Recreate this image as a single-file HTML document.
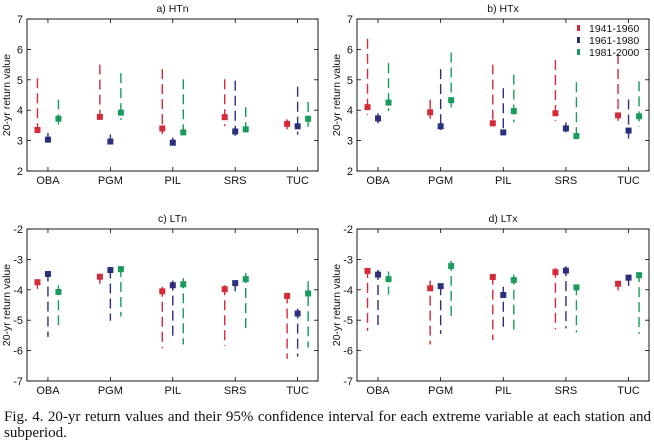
<!DOCTYPE html>
<html><head><meta charset="utf-8"><style>
body{margin:0;background:#fff;width:654px;height:445px;overflow:hidden}
svg text{font-family:"Liberation Sans",sans-serif}
.cap{position:absolute;left:4px;top:409px;width:647px;font-family:"Liberation Serif",serif;font-size:15px;line-height:16px;color:#111;white-space:nowrap}
.l1{display:block;text-align:justify;text-align-last:justify;white-space:normal}
</style></head><body>
<svg id="chart" width="654" height="400" style="position:absolute;left:0;top:0"></svg>
<div class="cap"><span class="l1">Fig. 4. 20-yr return values and their 95% confidence interval for each extreme variable at each station and</span>subperiod.</div>
<script>
const stations=["OBA","PGM","PIL","SRS","TUC"];
const periods=["1941-1960","1961-1980","1981-2000"];
const colors=["#d42a3a","#2b2f7c","#1a9a5c"];
const aPt=[[3.35,3.03,3.72],[3.78,2.97,3.92],[3.4,2.93,3.27],[3.77,3.3,3.37],[3.55,3.47,3.72]];
const aHi=[[5.05,3.25,4.35],[5.5,3.2,5.22],[5.35,3.1,5.02],[5.02,4.97,4.1],[3.7,4.77,4.27]];
const aLo=[[3.2,2.95,3.45],[3.55,2.93,3.68],[3.22,2.88,3.1],[3.47,3.12,3.15],[3.37,3.2,3.45]];
const bPt=[[4.1,3.73,4.25],[3.93,3.47,4.33],[3.57,3.27,3.97],[3.9,3.4,3.15],[3.83,3.33,3.8]];
const bHi=[[6.35,3.9,5.55],[4.35,5.35,5.9],[5.5,4.72,5.17],[5.65,3.6,4.92],[5.85,4.35,4.95]];
const bLo=[[3.85,3.55,3.97],[3.72,3.35,3.97],[3.47,3.18,3.6],[3.65,3.27,3.05],[3.65,3.07,3.45]];
const cPt=[[-3.75,-3.48,-4.07],[-3.57,-3.35,-3.32],[-4.05,-3.85,-3.82],[-3.98,-3.78,-3.65],[-4.2,-4.78,-4.12]];
const cHi=[[-3.68,-3.4,-3.85],[-3.5,-3.3,-3.25],[-3.9,-3.7,-3.62],[-3.85,-3.72,-3.45],[-4.12,-4.62,-3.72]];
const cLo=[[-3.97,-5.55,-5.25],[-3.8,-5.02,-4.88],[-5.92,-5.63,-5.8],[-5.85,-4.05,-5.35],[-6.27,-6.2,-5.9]];
const dPt=[[-3.38,-3.5,-3.65],[-3.95,-3.88,-3.22],[-3.58,-4.17,-3.68],[-3.42,-3.37,-3.92],[-3.8,-3.6,-3.52]];
const dHi=[[-3.28,-3.35,-3.4],[-3.7,-3.85,-3.05],[-3.5,-3.9,-3.5],[-3.28,-3.22,-3.85],[-3.72,-3.57,-3.42]];
const dLo=[[-5.35,-5.25,-4.15],[-5.8,-5.45,-4.97],[-5.65,-5.35,-5.42],[-5.3,-5.27,-5.4],[-4.02,-3.87,-5.45]];
const ticksHigh=[2,3,4,5,6,7];
const ticksLow=[-7,-6,-5,-4,-3,-2];
const NS="http://www.w3.org/2000/svg";
const svg=document.getElementById('chart');
function mk(tag,attrs,parent){const e=document.createElementNS(NS,tag);for(const k in attrs)e.setAttribute(k,attrs[k]);(parent||svg).appendChild(e);return e;}
const panels=[
 {id:"a",title:"a) HTn",x0:27,x1:318,y0:19,y1:171,min:2,max:7,ticks:ticksHigh,pt:aPt,hi:aHi,lo:aLo},
 {id:"b",title:"b) HTx",x0:357,x1:649,y0:19,y1:171,min:2,max:7,ticks:ticksHigh,pt:bPt,hi:bHi,lo:bLo},
 {id:"c",title:"c) LTn",x0:27,x1:318,y0:229,y1:381,min:-7,max:-2,ticks:ticksLow,pt:cPt,hi:cHi,lo:cLo},
 {id:"d",title:"d) LTx",x0:357,x1:649,y0:229,y1:381,min:-7,max:-2,ticks:ticksLow,pt:dPt,hi:dHi,lo:dLo}];
panels.forEach(p=>{
 const g=mk('g',{});
 
 
 const w=p.x1-p.x0;
 const yS=v=>p.y1-(v-p.min)/(p.max-p.min)*(p.y1-p.y0);
 const xS=i=>p.x0+w*(0.072+i*0.2145);
 const t=mk('text',{x:(p.x0+p.x1)/2,y:p.y0-7,'text-anchor':'middle','font-size':'10.5',fill:'#111'},g);t.textContent=p.title;
 
 const yl=mk('text',{x:0,y:0,transform:`translate(${p.x0-17},${(p.y0+p.y1)/2}) rotate(-90)`,'text-anchor':'middle','font-size':'10.5',fill:'#111'},g);yl.textContent="20-yr return value";
 
 p.ticks.forEach(v=>{
  const y=yS(v);
  mk('line',{x1:p.x0,x2:p.x0+4,y1:y,y2:y,stroke:'#000','stroke-width':0.8},g);
  mk('line',{x1:p.x1,x2:p.x1-4,y1:y,y2:y,stroke:'#000','stroke-width':0.8},g);
  const tl=mk('text',{x:p.x0-4,y:y+4,'text-anchor':'end','font-size':'11',fill:'#111'},g);tl.textContent=v;
  
 });
 stations.forEach((s,i)=>{
  const x=xS(i);
  mk('line',{x1:x,x2:x,y1:p.y1,y2:p.y1-4,stroke:'#000','stroke-width':0.8},g);
  mk('line',{x1:x,x2:x,y1:p.y0,y2:p.y0+4,stroke:'#000','stroke-width':0.8},g);
  const xl=mk('text',{x:x,y:p.y1+13,'text-anchor':'middle','font-size':'11',fill:'#111'},g);xl.textContent=s;
  
  for(let k=0;k<3;k++){
   const cx=x+(k-1)*10.5;
   const ci=mk('line',{x1:cx,x2:cx,y1:yS(p.hi[i][k]),y2:yS(p.lo[i][k]),stroke:colors[k],'stroke-width':1.4,'stroke-dasharray':'10,5'},g);
   
   const m=mk('rect',{x:cx-3,y:yS(p.pt[i][k])-3,width:6,height:6,fill:colors[k]},g);
   
  }
 });
 mk('rect',{x:p.x0,y:p.y0,width:w,height:p.y1-p.y0,fill:'none',stroke:'#000','stroke-width':0.9},g);
});
const lg=mk('g',{});


periods.forEach((s,k)=>{
 const y=28+k*12;
 mk('rect',{x:577,y:y-3,width:3,height:6,fill:colors[k]},lg);
 const t=mk('text',{x:589,y:y+4,'font-size':'10.5',fill:'#111'},lg);t.textContent=s;
 
});
</script>
</body></html>
